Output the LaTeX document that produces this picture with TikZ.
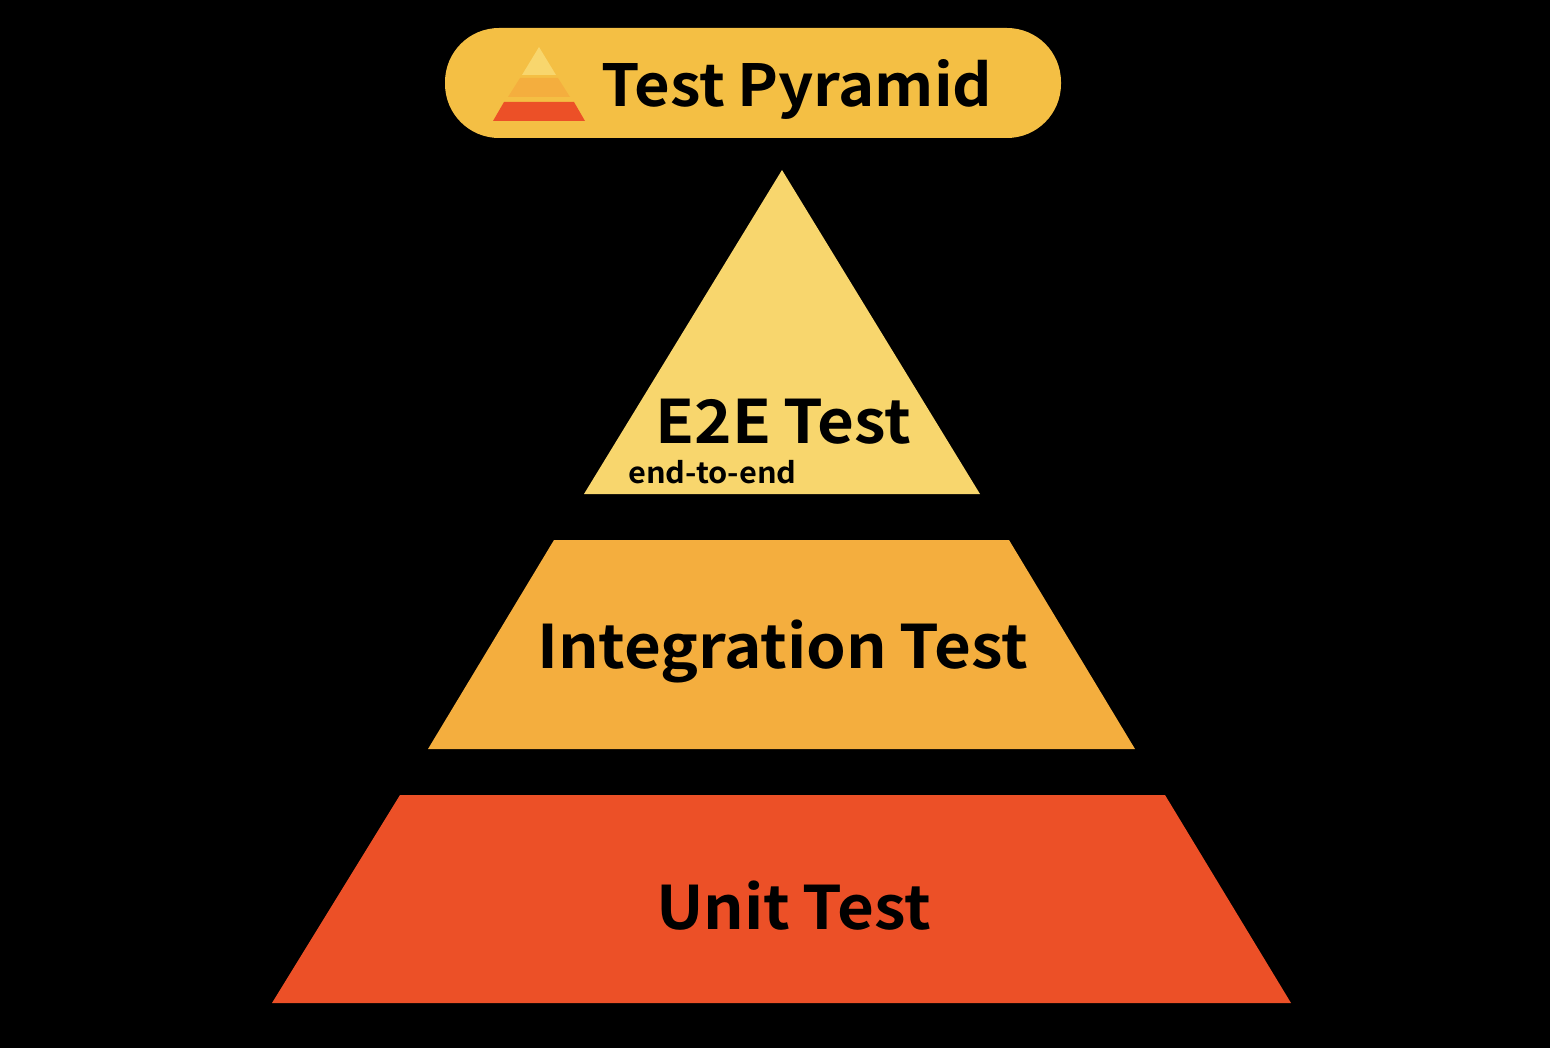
\documentclass[tikz,border=0pt]{standalone}
\usepackage{fontspec}
\setmainfont{Noto Sans CJK SC}[BoldFont={Noto Sans CJK SC Bold},FakeStretch=1.06,WordSpace=0.85]
\begin{document}
\begin{tikzpicture}[x=1pt,y=-1pt,
  lbl/.style={inner sep=0pt,text=black,font=\bfseries\fontsize{60}{60}\selectfont,anchor=base},
  ttl/.style={inner sep=0pt,text=black,font=\bfseries\fontsize{58}{58}\selectfont,anchor=base},
  sub/.style={inner sep=0pt,text=black,font=\bfseries\fontsize{29}{29}\selectfont,anchor=base west}]
\definecolor{ly}{HTML}{F8D66D}\definecolor{lo}{HTML}{F4AE3E}\definecolor{lr}{HTML}{EC5027}\definecolor{lb}{HTML}{F4BF44}
\useasboundingbox (0,0) rectangle (1550,1048);
\fill[black] (0,0) rectangle (1550,1048);
\fill[lb,rounded corners=54pt] (445,28) rectangle (1061,138);
\fill[ly] (539,47) -- (556,75) -- (522,75) -- cycle;
\fill[lo] (520,78) -- (558,78) -- (570,97) -- (508,97) -- cycle;
\fill[lr] (504,102) -- (574,102) -- (585,121) -- (493,121) -- cycle;
\node[ttl] (title) at (797,107) {Test Pyramid};
\fill[ly] (782,170) -- (980,494) -- (584,494) -- cycle;
\fill[lo] (554,540) -- (1009,540) -- (1135,749) -- (428,749) -- cycle;
\fill[lr] (400,795) -- (1165,795) -- (1291,1003) -- (272,1003) -- cycle;
\node[lbl] (e2e) at (783.5,443) {E2E Test};
\node[sub] (sub) at (628,483) {end-to-end};
\node[lbl] (integ) at (782.5,668) {Integration Test};
\node[lbl] (unit) at (793.5,929) {Unit Test};
\end{tikzpicture}
\end{document}
